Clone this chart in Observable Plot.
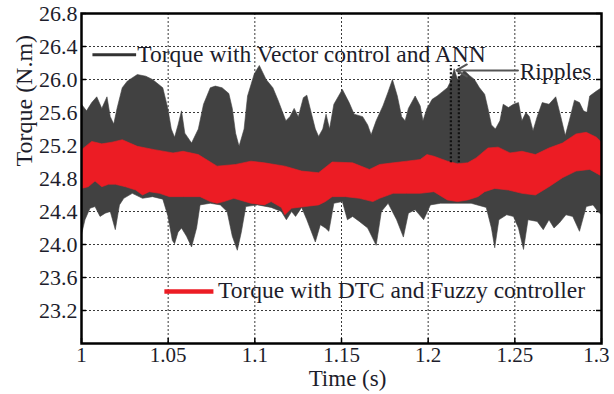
<!DOCTYPE html>
<html><head><meta charset="utf-8">
<script src="https://cdn.jsdelivr.net/npm/d3@7"></script>
<script src="https://cdn.jsdelivr.net/npm/@observablehq/plot@0.6"></script>
<style>
html,body{margin:0;padding:0;background:#fff;}
#chart svg{display:block;}
</style></head><body><div id="chart"></div>
<script>
const xTicks = [1, 1.05, 1.1, 1.15, 1.2, 1.25, 1.3];
const yTicks = [23.2, 23.6, 24.0, 24.4, 24.8, 25.2, 25.6, 26.0, 26.4, 26.8];

const seriesNames = ["Torque with Vector control and ANN", "Torque with DTC and Fuzzy controller"];

// Vector control + ANN: upper / lower envelope of the torque ripple band
const vecUpperT = [1.0000,1.0029,1.0059,1.0088,1.0117,1.0147,1.0166,1.0186,1.0205,1.0235,1.0264,1.0322,1.0371,1.0410,1.0469,1.0498,1.0518,1.0537,1.0557,1.0577,1.0596,1.0635,1.0674,1.0704,1.0743,1.0772,1.0811,1.0850,1.0870,1.0889,1.0909,1.0938,1.0958,1.0997,1.1026,1.1065,1.1104,1.1134,1.1157,1.1179,1.1202,1.1227,1.1251,1.1280,1.1300,1.1325,1.1349,1.1368,1.1392,1.1411,1.1431,1.1456,1.1505,1.1544,1.1573,1.1622,1.1651,1.1671,1.1700,1.1739,1.1769,1.1794,1.1822,1.1847,1.1867,1.1886,1.1925,1.1954,1.1970,1.1993,1.2023,1.2052,1.2081,1.2111,1.2130,1.2150,1.2169,1.2208,1.2238,1.2267,1.2296,1.2326,1.2345,1.2365,1.2388,1.2414,1.2433,1.2463,1.2492,1.2521,1.2541,1.2564,1.2584,1.2605,1.2629,1.2658,1.2697,1.2736,1.2765,1.2791,1.2814,1.2844,1.2873,1.2896,1.2916,1.2932,1.2971,1.3000];
const vecUpper  = [25.70,25.62,25.72,25.79,25.65,25.79,25.55,25.46,25.65,25.90,25.98,26.06,26.04,26.00,25.90,25.65,25.40,25.30,25.45,25.62,25.35,25.23,25.40,25.70,25.90,25.92,25.90,25.83,25.65,25.35,25.19,25.40,25.80,26.07,26.17,26.00,25.90,25.75,25.62,25.50,25.55,25.65,25.55,25.78,25.81,25.60,25.40,25.31,25.40,25.58,25.40,25.70,25.88,25.72,25.58,25.55,25.45,25.33,25.50,25.68,25.85,26.00,25.80,25.55,25.50,25.65,25.80,25.68,25.50,25.65,25.76,25.80,25.85,25.90,25.98,26.13,26.00,26.11,26.05,26.00,25.90,25.82,25.65,25.45,25.40,25.50,25.70,25.66,25.70,25.72,25.50,25.60,25.55,25.38,25.55,25.72,25.70,25.79,25.55,25.32,25.50,25.75,25.72,25.62,25.60,25.80,25.86,25.90];
const vecLowerT = [1.0000,1.0020,1.0049,1.0078,1.0107,1.0137,1.0166,1.0195,1.0219,1.0244,1.0293,1.0352,1.0410,1.0469,1.0498,1.0524,1.0537,1.0557,1.0577,1.0606,1.0635,1.0664,1.0684,1.0743,1.0801,1.0840,1.0870,1.0899,1.0922,1.0948,1.1016,1.1094,1.1153,1.1182,1.1212,1.1235,1.1270,1.1300,1.1349,1.1378,1.1407,1.1427,1.1456,1.1505,1.1534,1.1564,1.1603,1.1651,1.1700,1.1730,1.1769,1.1818,1.1857,1.1886,1.1925,1.1974,1.2013,1.2072,1.2150,1.2248,1.2335,1.2365,1.2384,1.2408,1.2453,1.2492,1.2521,1.2550,1.2576,1.2629,1.2664,1.2697,1.2726,1.2756,1.2795,1.2834,1.2873,1.2912,1.2951,1.2980,1.3000];
const vecLower  = [24.12,24.30,24.44,24.46,24.34,24.38,24.40,24.18,24.48,24.56,24.62,24.56,24.58,24.55,24.35,24.05,24.01,24.15,24.20,24.10,23.97,24.20,24.48,24.50,24.48,24.40,24.10,23.93,24.15,24.46,24.48,24.45,24.40,24.30,24.40,24.34,24.45,24.30,24.03,24.24,24.20,24.16,24.50,24.52,24.30,24.34,24.28,24.20,23.99,24.40,24.50,24.30,24.09,24.38,24.42,24.30,24.48,24.50,24.50,24.50,24.45,24.20,23.96,24.30,24.36,24.34,24.20,23.94,24.30,24.28,24.18,24.30,24.20,24.26,24.36,24.34,24.16,24.46,24.48,24.40,24.36];

// DTC + Fuzzy controller: upper / lower envelope
const dtcUpperT = [1.0000,1.0059,1.0117,1.0176,1.0235,1.0322,1.0420,1.0528,1.0586,1.0674,1.0782,1.0889,1.0977,1.1055,1.1173,1.1270,1.1368,1.1446,1.1564,1.1661,1.1720,1.1798,1.1876,1.1954,1.1993,1.2033,1.2111,1.2169,1.2228,1.2277,1.2345,1.2404,1.2472,1.2541,1.2619,1.2697,1.2775,1.2853,1.2912,1.2971,1.3000];
const dtcUpper  = [25.15,25.25,25.22,25.24,25.27,25.19,25.15,25.11,25.13,25.09,24.95,24.97,25.01,24.99,24.95,24.89,24.87,25.00,24.99,24.91,24.97,24.99,25.01,25.03,25.09,25.07,25.01,24.98,24.99,25.05,25.17,25.18,25.11,25.13,25.09,25.17,25.23,25.34,25.36,25.30,25.24];
const dtcLowerT = [1.0000,1.0039,1.0078,1.0117,1.0156,1.0195,1.0254,1.0313,1.0352,1.0391,1.0450,1.0508,1.0586,1.0684,1.0743,1.0782,1.0821,1.0879,1.0977,1.1055,1.1094,1.1153,1.1173,1.1212,1.1290,1.1368,1.1407,1.1446,1.1524,1.1603,1.1681,1.1720,1.1798,1.1876,1.1954,1.2033,1.2111,1.2169,1.2228,1.2287,1.2326,1.2384,1.2463,1.2541,1.2619,1.2697,1.2775,1.2853,1.2932,1.3000];
const dtcLower  = [24.68,24.70,24.77,24.70,24.73,24.73,24.70,24.66,24.60,24.64,24.62,24.58,24.58,24.58,24.52,24.50,24.52,24.56,24.50,24.48,24.52,24.45,24.36,24.44,24.46,24.48,24.52,24.58,24.58,24.56,24.52,24.56,24.62,24.62,24.62,24.64,24.54,24.52,24.54,24.58,24.64,24.68,24.66,24.62,24.60,24.70,24.81,24.89,24.91,24.83];

const band = (tu, yu, tl, yl) => [
  ...tu.map((t, i) => ({t, v: yu[i]})),
  ...tl.map((t, i) => ({t, v: yl[i]})).reverse()
];
const vecBand = band(vecUpperT, vecUpper, vecLowerT, vecLower);
const dtcBand = band(dtcUpperT, dtcUpper, dtcLowerT, dtcLower);

const ink = "#1d1d2b";
const serif = "'Liberation Serif','Times New Roman',serif";
const fmtX = d => String(+d.toFixed(2));

const plot = Plot.plot({
  width: 614, height: 394,
  marginLeft: 81, marginRight: 13, marginTop: 13, marginBottom: 51,
  style: {fontFamily: serif, fontSize: "22px", color: ink, background: "#fff"},
  x: {domain: [1, 1.3], label: null},
  y: {domain: [22.8, 26.8], ticks: yTicks, tickFormat: d => d.toFixed(1), tickSize: 0, tickPadding: 4, label: null},
  marks: [
    Plot.gridX(xTicks, {stroke: "#3a3a3a", strokeOpacity: 1, strokeDasharray: "2,2"}),
    Plot.gridY(yTicks, {stroke: "#3a3a3a", strokeOpacity: 1, strokeDasharray: "2,2"}),
    Plot.tickY(yTicks, {stroke: "#000", strokeWidth: 1.5, insetRight: 515}),
    Plot.tickY(yTicks, {stroke: "#000", strokeWidth: 1.5, insetLeft: 515}),
    Plot.tickX(xTicks, {stroke: "#000", strokeWidth: 1.5, insetTop: 325}),
    Plot.axisX(xTicks.slice(0, -1), {tickSize: 0, tickPadding: 4, tickFormat: fmtX, fontSize: 21, label: null}),
    Plot.axisX(xTicks.slice(-1), {tickSize: 0, tickPadding: 4, tickFormat: fmtX, fontSize: 21, textAnchor: "end", dx: 8, label: null}),
    Plot.line(vecBand, {x: "t", y: "v", fill: "#414141", stroke: "#414141", strokeWidth: 0.6, clip: true}),
    Plot.line(dtcBand, {x: "t", y: "v", fill: "#ec1c24", stroke: "#ec1c24", strokeWidth: 0.6, clip: true}),
    // ripple markers
    Plot.ruleX([1.2131, 1.2177], {y1: () => 24.99, y2: () => 26.17, stroke: "#111", strokeWidth: 2.2, strokeDasharray: "2,2"}),
    Plot.arrow([{x1: 1.2518, x2: 1.2163, y: 26.11}], {x1: "x1", x2: "x2", y1: "y", y2: "y", stroke: "#555", strokeWidth: 2, headLength: 9}),
    Plot.text(["Ripples"], {x: () => 1.2528, y: () => 26.10, textAnchor: "start", fontSize: 23.5, fill: ink}),
    // legend entries
    Plot.ruleY([26.30], {x1: () => 1.0066, x2: () => 1.0318, stroke: "#333", strokeWidth: 3}),
    Plot.text([seriesNames[0]], {x: () => 1.0322, y: () => 26.30, textAnchor: "start", fontSize: 23.5, fill: ink}),
    Plot.ruleY([23.43], {x1: () => 1.0481, x2: () => 1.0764, stroke: "#ec1c24", strokeWidth: 4.5}),
    Plot.text([seriesNames[1]], {x: () => 1.0787, y: () => 23.44, textAnchor: "start", fontSize: 23.5, fill: ink}),
    // axis titles
    Plot.text(["Torque (N.m)"], {frameAnchor: "left", dx: -57, dy: -12, rotate: -90, fontSize: 24, fill: ink}),
    Plot.text(["Time (s)"], {frameAnchor: "bottom", dx: 6, dy: 42, fontSize: 23, fill: ink}),
    Plot.frame({stroke: "#000", strokeWidth: 2.5})
  ]
});
document.getElementById("chart").append(plot);
</script></body></html>
